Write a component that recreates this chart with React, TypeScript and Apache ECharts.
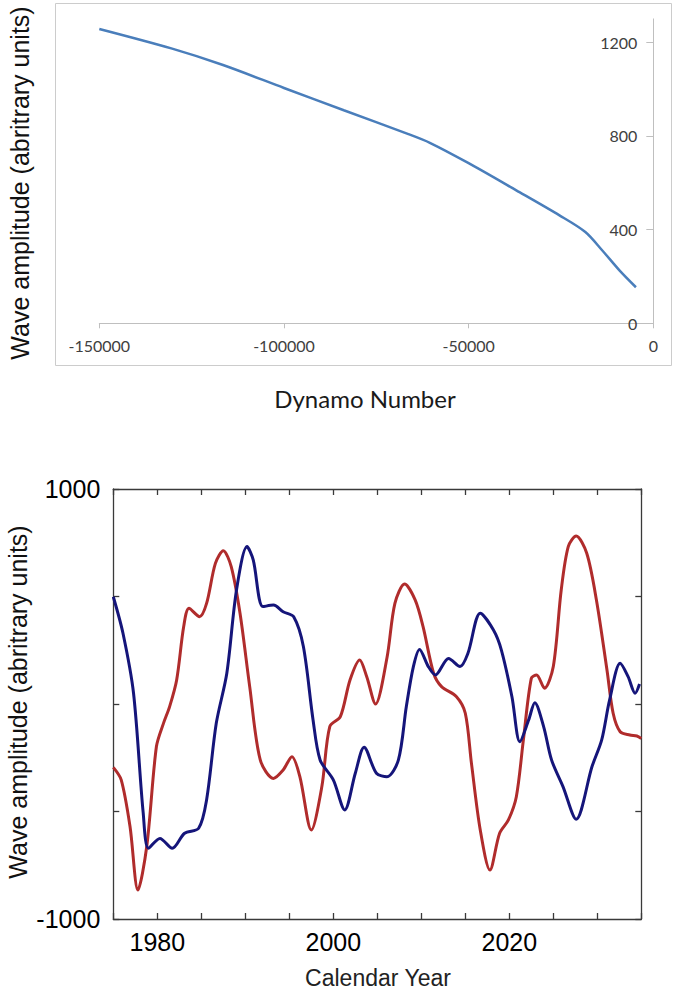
import React, { useEffect, useRef } from "react";
import * as echarts from "echarts";

// Top panel: wave amplitude vs dynamo number
const dynamoNumber = [-150000, -130500, -116500, -100000, -83800, -66300, -60500, -50000, -37100, -25400, -18400, -13800, -9100, -4700];
const amplitude = [1257, 1174, 1103, 1005, 910, 808, 771, 684, 568, 461, 390, 311, 225, 154];
const topXTicks = [-150000, -100000, -50000, 0];
const topYTicks = [0, 400, 800, 1200];

// Bottom panel: two wave components vs calendar year
const blueYears = [1975, 1976.1, 1977.3, 1978.4, 1979, 1980.3, 1981.7, 1983.1, 1984.7, 1985.6, 1986.7, 1987.9, 1989.0, 1990.2, 1990.9, 1992.0, 1993.2, 1994.3, 1995.5, 1996.6, 1997.7, 1998.5, 2000, 2001.3, 2002.5, 2003.5, 2004.9, 2006.1, 2007.4, 2008.3, 2009.1, 2009.8, 2010.8, 2011.6, 2013.1, 2014.4, 2015.3, 2016.7, 2018.2, 2019.1, 2020.3, 2021.2, 2022.2, 2022.9, 2023.9, 2024.8, 2026.1, 2027.6, 2029.4, 2030.5, 2031.4, 2032.6, 2033.5, 2034.3, 2034.8];
const blueValues = [499, 329, 50, -508, -671, -625, -671, -601, -578, -446, -90, 143, 530, 732, 670, 453, 460, 429, 406, 267, -74, -260, -353, -493, -322, -201, -322, -338, -260, -12, 174, 254, 174, 135, 212, 174, 236, 422, 344, 251, 34, -175, -74, 6, -105, -260, -384, -536, -291, -167, 19, 189, 127, 50, 93];
const redYears = [1975, 1975.9, 1976.9, 1977.8, 1978.8, 1979.9, 1980.7, 1981.4, 1982.2, 1983.0, 1983.6, 1984.8, 1985.6, 1986.6, 1987.5, 1988.4, 1989.4, 1990.5, 1991.7, 1993.2, 1994.3, 1995.3, 1996.2, 1997.5, 1998.7, 1999.6, 2000.8, 2001.9, 2003.0, 2003.8, 2004.8, 2006.1, 2007.0, 2008.1, 2009.3, 2010.2, 2011.4, 2012.3, 2014.0, 2015.0, 2015.7, 2016.7, 2017.8, 2018.9, 2019.9, 2020.8, 2021.6, 2022.5, 2023.1, 2024.0, 2025.0, 2025.9, 2026.7, 2027.6, 2028.8, 2029.9, 2031.1, 2031.8, 2032.6, 2033.7, 2034.5, 2035];
const redValues = [-295, -353, -570, -865, -663, -198, -90, -12, 112, 360, 445, 406, 468, 654, 713, 639, 422, 81, -260, -346, -307, -245, -338, -586, -384, -105, -59, 112, 205, 127, 0, 215, 468, 558, 484, 360, 143, 81, 34, -43, -276, -586, -772, -601, -539, -431, -167, 119, 135, 73, 174, 530, 732, 781, 701, 484, 158, -43, -129, -144, -149, -160];
const yearLabels = [1980, 2000, 2020];
const bottomYLabels = [-1000, 1000];

const zip = (a: number[], b: number[]) => a.map((v, i) => [v, b[i]]);
const plain = (v: number) => String(v);

export default function App() {
  const ref = useRef<HTMLDivElement>(null);
  useEffect(() => {
    if (!ref.current) return;
    const chart = echarts.init(ref.current, null, { renderer: "svg" });
    const arial = "'Liberation Sans', Arial, sans-serif";
    const lato = "Lato, sans-serif";
    const darkAxis = { lineStyle: { color: "#3a3a3a", width: 1.3 } };
    chart.setOption({
      animation: false,
      backgroundColor: "#ffffff",
      grid: [
        { left: 99.3, right: 675 - 653.3, top: 18.9, height: 304.4 },
        { left: 113.3, right: 675 - 641.3, top: 489, height: 430 },
      ],
      xAxis: [
        {
          type: "value", gridIndex: 0, min: -150000, max: 0, interval: 50000,
          axisLine: { show: true, onZero: false, lineStyle: { color: "#bfbfbf", width: 1 } },
          axisTick: { show: true, length: 5, lineStyle: { color: "#bfbfbf" }, customValues: topXTicks },
          axisLabel: { color: "#404040", fontFamily: lato, fontSize: 16, margin: 14, customValues: topXTicks, formatter: plain },
          splitLine: { show: false },
        },
        {
          type: "value", gridIndex: 1, min: 1975, max: 2035, interval: 5, position: "bottom",
          axisLine: { show: true, onZero: false, ...darkAxis },
          axisTick: { show: true, inside: true, length: 6, ...darkAxis },
          axisLabel: { color: "#000", fontFamily: arial, fontSize: 25, margin: 10, customValues: yearLabels, formatter: plain },
          splitLine: { show: false },
        },
        {
          type: "value", gridIndex: 1, min: 1975, max: 2035, interval: 5, position: "top",
          axisLine: { show: true, onZero: false, ...darkAxis },
          axisTick: { show: true, inside: true, length: 6, ...darkAxis },
          axisLabel: { show: false },
          splitLine: { show: false },
        },
      ],
      yAxis: [
        {
          type: "value", gridIndex: 0, min: 0, max: 1300, interval: 400, position: "right",
          axisLine: { show: true, onZero: false, lineStyle: { color: "#bfbfbf", width: 1 } },
          axisTick: { show: true, inside: true, length: 7, lineStyle: { color: "#bfbfbf" }, customValues: topYTicks },
          axisLabel: { inside: true, color: "#404040", fontFamily: lato, fontSize: 16, margin: 16, customValues: topYTicks, formatter: plain },
          splitLine: { show: false },
        },
        {
          type: "value", gridIndex: 1, min: -1000, max: 1000, interval: 500, position: "left",
          axisLine: { show: true, onZero: false, ...darkAxis },
          axisTick: { show: true, inside: true, length: 6, ...darkAxis },
          axisLabel: { color: "#000", fontFamily: arial, fontSize: 25, margin: 13, customValues: bottomYLabels, formatter: plain },
          splitLine: { show: false },
        },
        {
          type: "value", gridIndex: 1, min: -1000, max: 1000, interval: 500, position: "right",
          axisLine: { show: true, onZero: false, ...darkAxis },
          axisTick: { show: true, inside: true, length: 6, ...darkAxis },
          axisLabel: { show: false },
          splitLine: { show: false },
        },
      ],
      series: [
        {
          type: "line", xAxisIndex: 0, yAxisIndex: 0, data: zip(dynamoNumber, amplitude),
          smooth: 0.3, showSymbol: false, lineStyle: { color: "#4a7ebb", width: 2.5 },
        },
        {
          type: "line", xAxisIndex: 1, yAxisIndex: 1, data: zip(redYears, redValues),
          smooth: 0.3, showSymbol: false, lineStyle: { color: "#b02c2c", width: 3 },
        },
        {
          type: "line", xAxisIndex: 1, yAxisIndex: 1, data: zip(blueYears, blueValues),
          smooth: 0.3, showSymbol: false, lineStyle: { color: "#15157a", width: 3 },
        },
      ],
      graphic: [
        {
          type: "rect", shape: { x: 55.5, y: 3.5, width: 616, height: 362 },
          style: { fill: "none", stroke: "#cccccc", lineWidth: 1 }, silent: true,
        },
        {
          type: "text", x: 20, y: 183, rotation: Math.PI / 2,
          style: { text: "Wave amplitude (abritrary units)", font: `25px ${arial}`, fill: "#111", align: "center", verticalAlign: "middle" },
        },
        {
          type: "text", x: 365, y: 398,
          style: { text: "Dynamo Number", font: `24px ${lato}`, fill: "#1a1a1a", align: "center", verticalAlign: "middle" },
        },
        {
          type: "text", x: 18, y: 702, rotation: Math.PI / 2,
          style: { text: "Wave amplitude (abritrary units)", font: `25px ${arial}`, fill: "#111", align: "center", verticalAlign: "middle" },
        },
        {
          type: "text", x: 378, y: 978,
          style: { text: "Calendar Year", font: `23px ${arial}`, fill: "#222", align: "center", verticalAlign: "middle" },
        },
      ],
    });
    return () => chart.dispose();
  }, []);
  return <div ref={ref} style={{ position: "absolute", left: 0, top: 0, width: 675, height: 991 }} />;
}
